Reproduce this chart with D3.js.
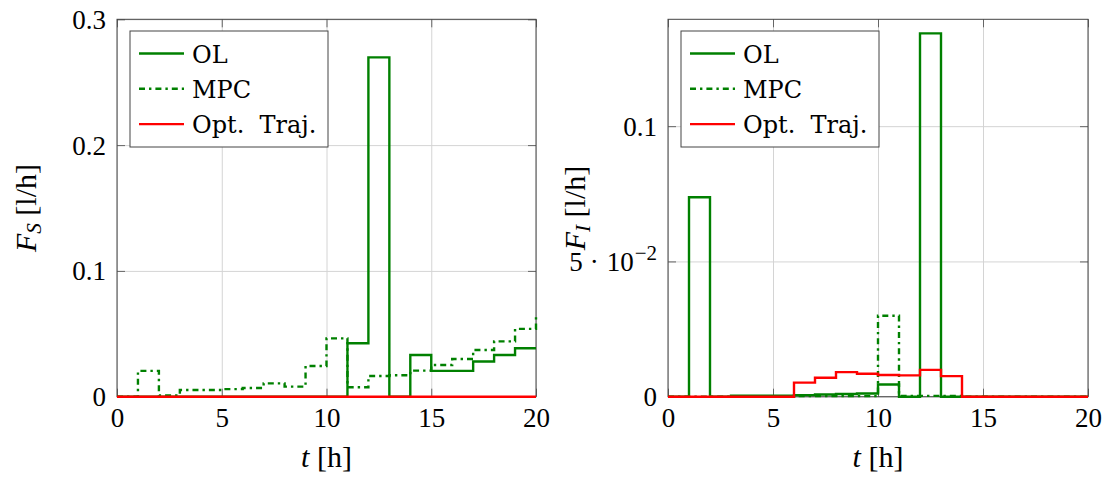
<!DOCTYPE html>
<html>
<head>
<meta charset="utf-8">
<script src="https://cdn.jsdelivr.net/npm/d3@7/dist/d3.min.js"></script>
<style>
  body { margin: 0; background: #fff; }
  svg { display: block; }
  .legend text { white-space: pre; }
</style>
</head>
<body>
<svg id="chart" width="1106" height="480"></svg>
<script>
// Sampling instants (hours); each value holds until the next instant
const hours = [0, 1, 2, 3, 4, 5, 6, 7, 8, 9, 10, 11, 12, 13, 14, 15, 16, 17, 18, 19, 20];
const xTicks = [0, 5, 10, 15, 20];

// Substrate feed F_S [l/h]
const fsTicks = [0, 0.1, 0.2, 0.3];
const fsOL  = [0, 0, 0, 0, 0, 0, 0, 0, 0, 0, 0, 0.0425, 0.2697, 0, 0.0332, 0.0205, 0.0205, 0.0280, 0.0332, 0.0385, 0.0385];
const fsMPC = [0, 0.0205, 0.0010, 0.0053, 0.0053, 0.0060, 0.0069, 0.0106, 0.0080, 0.0244, 0.0464, 0.0075, 0.0165, 0.0170, 0.0207, 0.0252, 0.0300, 0.0371, 0.0440, 0.0539, 0.0640];
const fsOpt = [0, 0, 0, 0, 0, 0, 0, 0, 0, 0, 0, 0, 0, 0, 0, 0, 0, 0, 0, 0, 0];

// Inducer feed F_I [l/h]
const fiTicks = [0, 0.05, 0.1];
const fiOL  = [0, 0.0737, 0, 0.0004, 0.0004, 0.0004, 0.0006, 0.0008, 0.0010, 0.0012, 0.0045, 0, 0.1343, 0, 0, 0, 0, 0, 0, 0, 0];
const fiMPC = [0, 0, 0, 0, 0, 0, 0.0002, 0.0002, 0.0002, 0.0002, 0.0299, 0.0003, 0.0003, 0.0003, 0, 0, 0, 0, 0, 0, 0];
const fiOpt = [0, 0, 0, 0, 0, 0, 0.0052, 0.0070, 0.0091, 0.0085, 0.0080, 0.0079, 0.0099, 0.0076, 0, 0, 0, 0, 0, 0, 0];

const seriesNames = ["OL", "MPC", "Opt.  Traj."];

const GREEN = "#008000";
const RED = "#ff0000";
const styles = [
  { color: GREEN, dash: null },
  { color: GREEN, dash: "6,4,2.4,4" },
  { color: RED, dash: null }
];

const svg = d3.select("#chart");
const TICK_FONT = "'Liberation Serif', 'DejaVu Serif', serif";
const LEGEND_FONT = "'DejaVu Serif', serif";

function drawPanel(cfg) {
  const g = svg.append("g");
  const x = d3.scaleLinear().domain([0, 20]).range([cfg.left, cfg.right]);
  const y = d3.scaleLinear().domain([0, cfg.yMax]).range([cfg.bottom, cfg.top]);
  const w = cfg.right - cfg.left, h = cfg.bottom - cfg.top;

  // grid
  const grid = g.append("g").attr("class", "grid");
  grid.append("g").attr("transform", `translate(0,${cfg.bottom})`)
    .call(d3.axisBottom(x).tickValues(xTicks).tickSize(-h).tickFormat(""));
  grid.append("g").attr("transform", `translate(${cfg.left},0)`)
    .call(d3.axisLeft(y).tickValues(cfg.yTicks).tickSize(-w).tickFormat(""));
  grid.selectAll(".domain").remove();
  grid.selectAll("line").attr("stroke", "#d4d4d4").attr("stroke-width", 1);

  // inward ticks on all four sides
  const tl = 8;
  const axB = g.append("g").attr("transform", `translate(0,${cfg.bottom})`)
    .call(d3.axisBottom(x).tickValues(xTicks).tickSizeInner(-tl).tickSizeOuter(0).tickFormat(d => d));
  const axT = g.append("g").attr("transform", `translate(0,${cfg.top})`)
    .call(d3.axisTop(x).tickValues(xTicks).tickSizeInner(-tl).tickSizeOuter(0).tickFormat(""));
  const axL = g.append("g").attr("transform", `translate(${cfg.left},0)`)
    .call(d3.axisLeft(y).tickValues(cfg.yTicks).tickSizeInner(-tl).tickSizeOuter(0).tickFormat(cfg.yFormat));
  const axR = g.append("g").attr("transform", `translate(${cfg.right},0)`)
    .call(d3.axisRight(y).tickValues(cfg.yTicks).tickSizeInner(-tl).tickSizeOuter(0).tickFormat(""));
  [axB, axT, axL, axR].forEach(a => {
    a.select(".domain").remove();
    a.selectAll("line").attr("stroke", "#666").attr("stroke-width", 1);
  });
  axB.selectAll("text")
    .attr("y", 30).attr("dy", null)
    .attr("font-family", TICK_FONT).attr("font-size", 27).attr("fill", "#000");
  axL.selectAll("text")
    .attr("x", -11).attr("dy", "0.33em")
    .attr("font-family", TICK_FONT).attr("font-size", 27).attr("fill", "#000");
  if (cfg.afterLeft) cfg.afterLeft(axL, y);

  // frame
  g.append("rect")
    .attr("x", cfg.left).attr("y", cfg.top).attr("width", w).attr("height", h)
    .attr("fill", "none").attr("stroke", "#444").attr("stroke-width", 1);

  // step lines
  const line = d3.line().x((d, i) => x(hours[i])).y(d => y(d)).curve(d3.curveStepAfter);
  const clipId = "clip" + cfg.id;
  svg.append("clipPath").attr("id", clipId).append("rect")
    .attr("x", cfg.left - 2).attr("y", cfg.top).attr("width", w + 4).attr("height", h + 3);
  const data = g.append("g").attr("clip-path", `url(#${clipId})`);
  cfg.series.forEach((s, k) => {
    data.append("path")
      .attr("d", line(s))
      .attr("fill", "none")
      .attr("stroke", styles[k].color)
      .attr("stroke-width", 2.4)
      .attr("stroke-dasharray", styles[k].dash)
      .attr("stroke-linejoin", "miter");
  });

  // legend
  const lx = cfg.left + 13, ly = 31;
  const lg = g.append("g").attr("class", "legend").attr("transform", `translate(${lx},${ly})`);
  lg.append("rect").attr("width", 198).attr("height", 116)
    .attr("fill", "#fff").attr("stroke", "#444").attr("stroke-width", 1);
  seriesNames.forEach((name, k) => {
    const ry = 22.5 + k * 35.3;
    lg.append("line").attr("x1", 9).attr("x2", 54).attr("y1", ry).attr("y2", ry)
      .attr("stroke", styles[k].color).attr("stroke-width", 2.4)
      .attr("stroke-dasharray", styles[k].dash);
    lg.append("text").attr("x", 62).attr("y", ry + 9)
      .attr("font-family", LEGEND_FONT).attr("font-size", 24)
      .text(name);
  });

  // x label
  const xl = g.append("text")
    .attr("x", (cfg.left + cfg.right) / 2).attr("y", 467)
    .attr("text-anchor", "middle")
    .attr("font-family", TICK_FONT).attr("font-size", 30);
  xl.append("tspan").attr("font-style", "italic").text("t");
  xl.append("tspan").text(" [h]");

  // y label
  const yl = g.append("text")
    .attr("transform", `translate(${cfg.yLabelX},${(cfg.top + cfg.bottom) / 2}) rotate(-90)`)
    .attr("text-anchor", "middle")
    .attr("font-family", TICK_FONT).attr("font-size", 30);
  yl.append("tspan").attr("font-style", "italic").text("F");
  yl.append("tspan").attr("font-style", "italic").attr("font-size", 21).attr("dy", 5).text(cfg.sub);
  yl.append("tspan").attr("dy", -5).text(" [l/h]");
}

drawPanel({
  id: "S", left: 117, right: 536, top: 19.3, bottom: 396.7,
  yMax: 0.3, yTicks: fsTicks,
  yFormat: d => d === 0 ? "0" : d3.format(".1f")(d),
  series: [fsOL, fsMPC, fsOpt],
  sub: "S", yLabelX: 36
});

drawPanel({
  id: "I", left: 668, right: 1088, top: 19.3, bottom: 396.7,
  yMax: 0.1395, yTicks: fiTicks,
  yFormat: d => d === 0 ? "0" : d3.format(".1f")(d),
  series: [fiOL, fiMPC, fiOpt],
  sub: "I", yLabelX: 585,
  afterLeft: (ax, y) => {
    // scientific notation for the middle tick
    ax.selectAll(".tick").filter(d => d === 0.05).select("text").each(function () {
      const t = d3.select(this).text("");
      t.append("tspan").text("5");
      t.append("tspan").attr("dx", 7).text("·");
      t.append("tspan").attr("dx", 8).text("10");
      t.append("tspan").attr("font-size", 21).attr("dx", 1).attr("dy", -11).text("−2");
    });
  }
});
</script>
</body>
</html>
